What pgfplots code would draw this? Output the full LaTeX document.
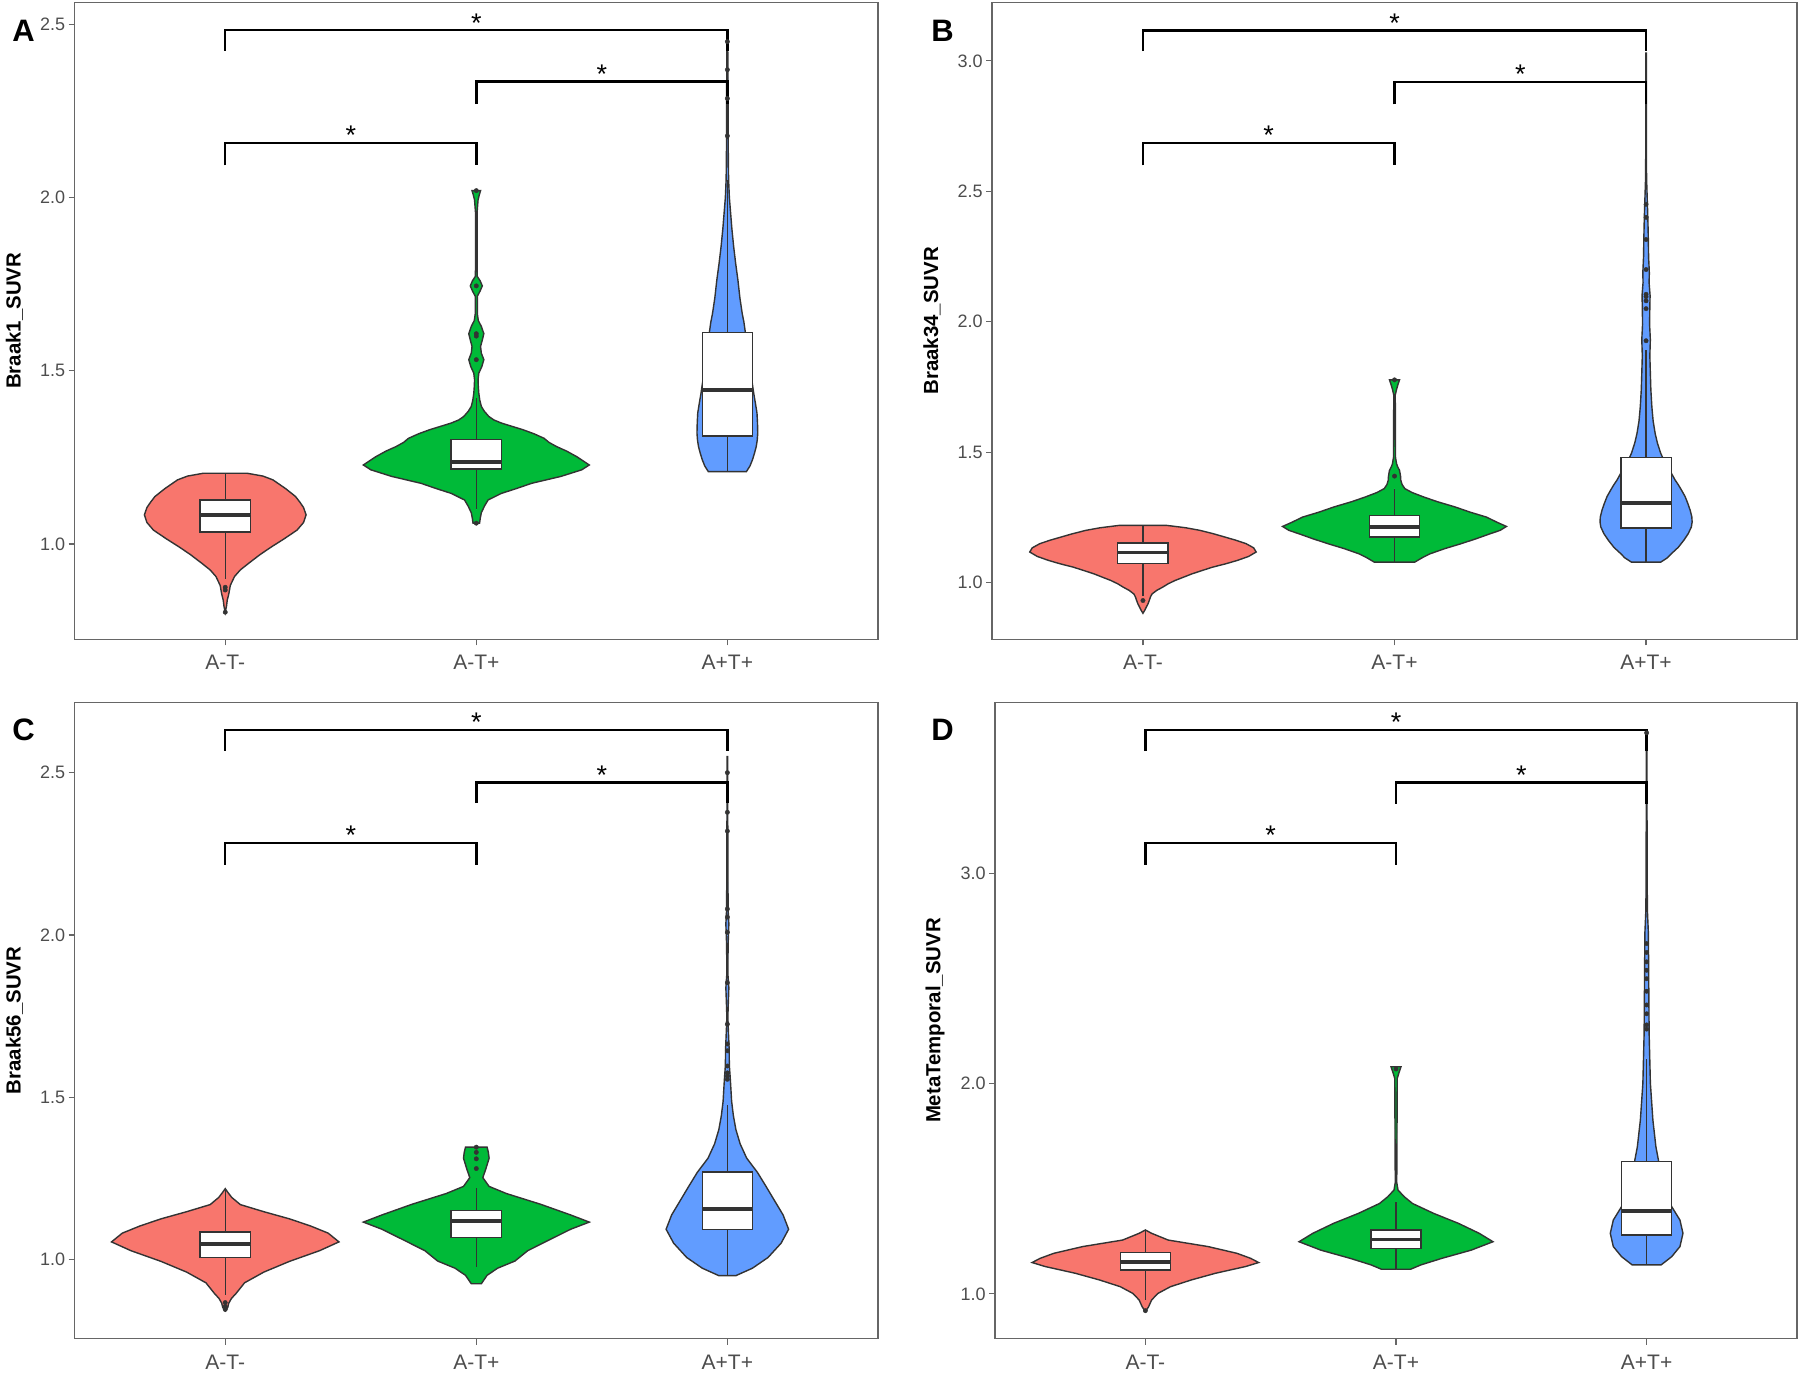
\documentclass[border=0pt]{standalone}
\usepackage{fontspec}
\setmainfont{Liberation Sans}
\usepackage{pgfplots}
\usepackage{pgfplotstable}
\pgfplotsset{compat=1.18}
\usepgfplotslibrary{fillbetween,statistics}

\definecolor{vred}{HTML}{F8766D}
\definecolor{vgreen}{HTML}{00BA38}
\definecolor{vblue}{HTML}{619CFF}
\definecolor{vline}{HTML}{333333}
\definecolor{framegray}{HTML}{666666}
\definecolor{tickgray}{HTML}{4D4D4D}

% ---------- Panel A ----------
\pgfplotstableread{
y w
0.803 0.000
0.820 0.005
0.838 0.008
0.855 0.014
0.867 0.017
0.880 0.020
0.906 0.037
0.925 0.060
0.944 0.093
0.970 0.140
0.992 0.185
1.015 0.235
1.040 0.286
1.062 0.312
1.084 0.322
1.105 0.312
1.120 0.298
1.137 0.280
1.160 0.240
1.175 0.210
1.185 0.190
1.196 0.150
1.204 0.088
}\tAa
\pgfplotstableread{
y w
1.060 0.013
1.075 0.016
1.090 0.020
1.110 0.033
1.127 0.047
1.146 0.100
1.160 0.160
1.175 0.220
1.195 0.337
1.214 0.420
1.228 0.450
1.240 0.425
1.252 0.400
1.268 0.360
1.281 0.320
1.293 0.290
1.305 0.270
1.318 0.230
1.330 0.185
1.340 0.140
1.349 0.100
1.358 0.070
1.368 0.050
1.383 0.032
1.397 0.020
1.415 0.014
1.435 0.010
1.455 0.008
1.474 0.007
1.493 0.010
1.512 0.022
1.532 0.030
1.551 0.020
1.570 0.017
1.589 0.024
1.607 0.030
1.628 0.020
1.645 0.008
1.665 0.004
1.715 0.004
1.730 0.015
1.745 0.024
1.760 0.015
1.772 0.004
1.801 0.003
1.955 0.003
1.993 0.007
2.008 0.012
2.020 0.017
}\tAb
\pgfplotstableread{
y w
1.209 0.076
1.225 0.090
1.243 0.100
1.262 0.108
1.281 0.115
1.300 0.119
1.320 0.121
1.350 0.120
1.378 0.118
1.405 0.112
1.435 0.105
1.465 0.099
1.493 0.093
1.520 0.088
1.551 0.084
1.580 0.078
1.609 0.072
1.640 0.066
1.666 0.059
1.710 0.050
1.762 0.042
1.810 0.033
1.859 0.025
1.910 0.018
1.955 0.013
2.000 0.008
2.051 0.005
2.100 0.004
2.200 0.003
2.300 0.003
2.400 0.002
2.470 0.001
}\tAc

% ---------- Panel B ----------
\pgfplotstableread{
y w
0.882 0.000
0.895 0.008
0.905 0.013
0.918 0.020
0.931 0.025
0.945 0.030
0.956 0.036
0.970 0.055
0.982 0.078
0.995 0.100
1.008 0.128
1.020 0.160
1.033 0.194
1.046 0.235
1.059 0.277
1.072 0.330
1.085 0.376
1.100 0.420
1.117 0.450
1.133 0.440
1.149 0.410
1.162 0.370
1.174 0.327
1.187 0.280
1.200 0.227
1.210 0.170
1.219 0.095
}\tBa
\pgfplotstableread{
y w
1.078 0.080
1.095 0.110
1.110 0.141
1.130 0.200
1.149 0.265
1.168 0.325
1.187 0.380
1.200 0.420
1.215 0.445
1.230 0.410
1.251 0.365
1.270 0.300
1.290 0.240
1.310 0.170
1.328 0.116
1.345 0.070
1.360 0.041
1.376 0.030
1.392 0.025
1.408 0.024
1.430 0.020
1.445 0.012
1.456 0.008
1.480 0.004
1.719 0.003
1.740 0.008
1.760 0.014
1.777 0.020
}\tBb
\pgfplotstableread{
y w
1.078 0.058
1.095 0.085
1.110 0.100
1.135 0.128
1.162 0.150
1.188 0.168
1.213 0.180
1.232 0.183
1.251 0.182
1.278 0.175
1.303 0.166
1.330 0.155
1.354 0.141
1.375 0.128
1.392 0.116
1.420 0.100
1.444 0.083
1.470 0.070
1.496 0.058
1.535 0.045
1.572 0.036
1.620 0.028
1.674 0.023
1.740 0.019
1.803 0.017
1.870 0.015
1.931 0.017
1.990 0.014
2.059 0.015
2.100 0.016
2.150 0.012
2.187 0.013
2.250 0.010
2.315 0.009
2.400 0.007
2.460 0.005
2.550 0.002
2.700 0.001
3.030 0.001
}\tBc

% ---------- Panel C ----------
\pgfplotstableread{
y w
0.841 0.000
0.852 0.010
0.865 0.014
0.880 0.025
0.895 0.043
0.928 0.077
0.961 0.154
0.994 0.256
1.027 0.376
1.054 0.453
1.081 0.410
1.103 0.340
1.125 0.256
1.147 0.154
1.169 0.060
1.191 0.026
1.205 0.012
1.218 0.000
}\tCa
\pgfplotstableread{
y w
0.925 0.020
0.951 0.043
0.973 0.085
0.995 0.154
1.027 0.205
1.060 0.290
1.093 0.376
1.115 0.450
1.137 0.376
1.170 0.256
1.203 0.120
1.225 0.051
1.252 0.026
1.279 0.038
1.312 0.051
1.330 0.048
1.346 0.043
}\tCb
\pgfplotstableread{
y w
0.950 0.034
0.973 0.100
1.006 0.162
1.050 0.214
1.093 0.244
1.137 0.222
1.181 0.188
1.225 0.154
1.268 0.120
1.312 0.077
1.356 0.051
1.400 0.034
1.443 0.024
1.487 0.017
1.553 0.012
1.597 0.008
1.651 0.007
1.706 0.004
1.748 0.002
1.794 0.004
1.837 0.006
1.881 0.002
1.969 0.003
2.034 0.006
2.078 0.003
2.253 0.002
2.550 0.001
}\tCc

% ---------- Panel D ----------
\pgfplotstableread{
y w
0.915 0.000
0.939 0.013
0.971 0.025
1.002 0.050
1.034 0.100
1.066 0.183
1.098 0.280
1.130 0.400
1.149 0.452
1.169 0.420
1.193 0.365
1.225 0.250
1.256 0.091
1.288 0.025
1.304 0.000
}\tDa
\pgfplotstableread{
y w
1.117 0.058
1.138 0.100
1.169 0.183
1.208 0.300
1.248 0.387
1.288 0.332
1.335 0.250
1.383 0.150
1.430 0.066
1.462 0.033
1.494 0.008
1.530 0.003
2.025 0.005
2.057 0.013
2.081 0.020
}\tDb
\pgfplotstableread{
y w
1.138 0.058
1.177 0.100
1.225 0.133
1.288 0.145
1.351 0.133
1.415 0.100
1.478 0.075
1.541 0.058
1.637 0.047
1.700 0.037
1.827 0.025
2.002 0.015
2.240 0.010
2.557 0.008
2.716 0.007
2.827 0.003
3.033 0.002
3.670 0.001
}\tDc

\pgfplotsset{
  vio/.style={
    scale only axis,
    xmin=0.4, xmax=3.6,
    xtick={1,2,3}, xticklabels={A-T-,A-T+,A+T+},
    tick align=outside, tick pos=left,
    major tick length=3pt,
    axis line style={draw=framegray, line width=0.6pt},
    every tick/.style={draw=framegray, line width=0.6pt},
    yticklabel style={font=\fontsize{9}{10}\selectfont, text=tickgray, inner xsep=1.5pt,
      /pgf/number format/.cd, fixed, fixed zerofill, precision=1, assume math mode=true},
    xticklabel style={font=\fontsize{10.5}{12}\selectfont, text=tickgray, yshift=-1.5pt},
    ylabel style={font=\bfseries\fontsize{10.2}{12}\selectfont, at={(axis description cs:-0.0747,0.5)}, anchor=center},
  },
  bx/.style={boxplot prepared={#1, box extend=0.2, whisker extend=0, draw direction=y},
    fill=white, draw=vline, line width=0.7pt,
    mark=*, mark size=1.1pt, mark options={fill=vline, draw=vline, line width=0.2pt},
    boxplot/every median/.style={line width=1.9pt}},
  sig/.style={black, line width=1.25pt, mark=none, forget plot},
}

\newcommand{\violin}[4]{%
  \addplot[draw=none, forget plot, name path=#4r] table[x expr=#2+\thisrow{w}, y=y]{#1};
  \addplot[draw=none, forget plot, name path=#4l] table[x expr=#2-\thisrow{w}, y=y]{#1};
  \addplot[fill=#3, draw=vline, line width=0.7pt, forget plot] fill between[of=#4r and #4l, reverse=true];
}
\newcommand{\sig}[5]{%
  \addplot[sig] coordinates {(#1,#4) (#1,#3) (#2,#3) (#2,#4)};
  \node[font=\fontsize{13.5}{14}\selectfont, anchor=base, yshift=-0.9pt] at (axis cs:#5,#3) {*};
}

\begin{document}
\begin{tikzpicture}

% ===== A =====
\begin{axis}[vio, at={(37.3pt,368.3pt)}, anchor=south west, width=401.7pt, height=318.6pt,
  ymin=0.7245, ymax=2.564, ytick={1,1.5,2,2.5}, ylabel={Braak1\_SUVR}]
\violin{\tAa}{1}{vred}{Aa}
\violin{\tAb}{2}{vgreen}{Ab}
\violin{\tAc}{3}{vblue}{Ac}
\addplot[bx={draw position=1, lower whisker=0.900, lower quartile=1.034, median=1.084, upper quartile=1.127, upper whisker=1.204}]
  table[row sep=\\, y index=0]{v\\ 0.867\\ 0.875\\ 0.803\\};
\addplot[bx={draw position=2, lower whisker=1.100, lower quartile=1.216, median=1.236, upper quartile=1.301, upper whisker=1.420}]
  table[row sep=\\, y index=0]{v\\ 1.060\\ 1.532\\ 1.600\\ 1.607\\ 1.745\\ 2.020\\};
\addplot[bx={draw position=3, lower whisker=1.209, lower quartile=1.312, median=1.445, upper quartile=1.610, upper whisker=2.050}]
  table[row sep=\\, y index=0]{v\\ 2.178\\ 2.286\\ 2.369\\ 2.450\\};
\sig{1}{3}{2.483}{2.424}{2}
\sig{2}{3}{2.335}{2.270}{2.5}
\sig{1}{2}{2.158}{2.093}{1.5}
\end{axis}

% ===== B =====
\begin{axis}[vio, at={(496pt,368.3pt)}, anchor=south west, width=402.5pt, height=318.6pt,
  ymin=0.782, ymax=3.225, ytick={1,1.5,2,2.5,3}, ylabel={Braak34\_SUVR}]
\violin{\tBa}{1}{vred}{Ba}
\violin{\tBb}{2}{vgreen}{Bb}
\violin{\tBc}{3}{vblue}{Bc}
\addplot[bx={draw position=1, lower whisker=0.950, lower quartile=1.072, median=1.115, upper quartile=1.151, upper whisker=1.219}]
  table[row sep=\\, y index=0]{v\\ 0.931\\};
\addplot[bx={draw position=2, lower whisker=1.078, lower quartile=1.174, median=1.213, upper quartile=1.258, upper whisker=1.360}]
  table[row sep=\\, y index=0]{v\\ 1.408\\ 1.777\\};
\addplot[bx={draw position=3, lower whisker=1.078, lower quartile=1.209, median=1.305, upper quartile=1.480, upper whisker=1.890}]
  table[row sep=\\, y index=0]{v\\ 1.927\\ 2.050\\ 2.080\\ 2.096\\ 2.105\\ 2.200\\ 2.315\\ 2.400\\ 2.450\\};
\sig{1}{3}{3.116}{3.037}{2}
\sig{2}{3}{2.919}{2.833}{2.5}
\sig{1}{2}{2.685}{2.599}{1.5}
\end{axis}

% ===== C =====
\begin{axis}[vio, at={(37.3pt,18.7pt)}, anchor=south west, width=401.7pt, height=318pt,
  ymin=0.756, ymax=2.716, ytick={1,1.5,2,2.5}, ylabel={Braak56\_SUVR}]
\violin{\tCa}{1}{vred}{Ca}
\violin{\tCb}{2}{vgreen}{Cb}
\violin{\tCc}{3}{vblue}{Cc}
\addplot[bx={draw position=1, lower whisker=0.890, lower quartile=1.005, median=1.047, upper quartile=1.084, upper whisker=1.215}]
  table[row sep=\\, y index=0]{v\\ 0.846\\ 0.855\\ 0.867\\};
\addplot[bx={draw position=2, lower whisker=0.977, lower quartile=1.067, median=1.118, upper quartile=1.150, upper whisker=1.220}]
  table[row sep=\\, y index=0]{v\\ 1.280\\ 1.310\\ 1.330\\ 1.346\\};
\addplot[bx={draw position=3, lower whisker=0.950, lower quartile=1.092, median=1.156, upper quartile=1.270, upper whisker=1.475}]
  table[row sep=\\, y index=0]{v\\ 1.555\\ 1.565\\ 1.575\\ 1.596\\ 1.643\\ 1.664\\ 1.725\\ 1.853\\ 2.008\\ 2.055\\ 2.080\\ 2.320\\ 2.378\\ 2.500\\};
\sig{1}{3}{2.632}{2.567}{2}
\sig{2}{3}{2.470}{2.406}{2.5}
\sig{1}{2}{2.284}{2.217}{1.5}
\end{axis}

% ===== D =====
\begin{axis}[vio, at={(497.5pt,18.7pt)}, anchor=south west, width=401pt, height=318pt,
  ymin=0.787, ymax=3.814, ytick={1,2,3}, ylabel={MetaTemporal\_SUVR}]
\violin{\tDa}{1}{vred}{Da}
\violin{\tDb}{2}{vgreen}{Db}
\violin{\tDc}{3}{vblue}{Dc}
\addplot[bx={draw position=1, lower whisker=0.970, lower quartile=1.114, median=1.153, upper quartile=1.198, upper whisker=1.304}]
  table[row sep=\\, y index=0]{v\\ 0.920\\};
\addplot[bx={draw position=2, lower whisker=1.117, lower quartile=1.216, median=1.259, upper quartile=1.304, upper whisker=1.438}]
  table[row sep=\\, y index=0]{v\\ 2.070\\};
\addplot[bx={draw position=3, lower whisker=1.138, lower quartile=1.280, median=1.396, upper quartile=1.630, upper whisker=2.120}]
  table[row sep=\\, y index=0]{v\\ 2.260\\ 2.280\\ 2.333\\ 2.375\\ 2.440\\ 2.500\\ 2.540\\ 2.580\\ 2.625\\ 2.667\\ 3.670\\};
\sig{1}{3}{3.683}{3.583}{2}
\sig{2}{3}{3.433}{3.333}{2.5}
\sig{1}{2}{3.146}{3.042}{1.5}
\end{axis}

% panel letters
\node[font=\bfseries\fontsize{15.5}{18}\selectfont, anchor=base west, inner sep=0pt] at (6pt,667pt) {A};
\node[font=\bfseries\fontsize{15.5}{18}\selectfont, anchor=base west, inner sep=0pt] at (465.5pt,667pt) {B};
\node[font=\bfseries\fontsize{15.5}{18}\selectfont, anchor=base west, inner sep=0pt] at (6pt,317.8pt) {C};
\node[font=\bfseries\fontsize{15.5}{18}\selectfont, anchor=base west, inner sep=0pt] at (465.5pt,317.8pt) {D};

\pgfresetboundingbox
\path (0,0) rectangle (900pt,688pt);
\end{tikzpicture}
\end{document}
